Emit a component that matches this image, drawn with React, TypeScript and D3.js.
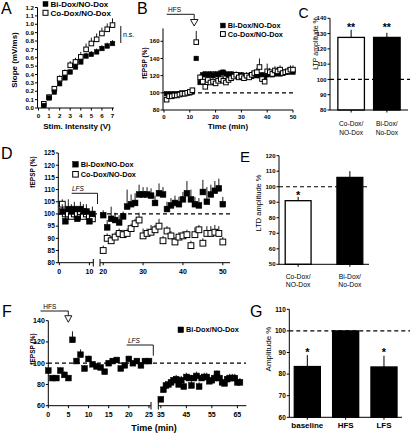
import React from "react";
import * as d3 from "d3";

const FONT = "'Liberation Sans', Arial, Helvetica, sans-serif";

// ---------- Panel A ----------
const stimV = [0.5, 1, 1.5, 2, 2.5, 3, 3.5, 4, 4.5, 5, 5.5, 6, 6.5, 7];
const aBi = [0.03, 0.12, 0.19, 0.29, 0.36, 0.43, 0.49, 0.55, 0.62, 0.64, 0.67, 0.71, 0.74, 0.77];
const aBiErr = [0.02, 0.02, 0.02, 0.02, 0.03, 0.03, 0.03, 0.03, 0.04, 0.04, 0.04, 0.04, 0.04, 0.04];
const aCo = [0.05, 0.13, 0.23, 0.35, 0.42, 0.51, 0.55, 0.61, 0.7, 0.77, 0.82, 0.89, 0.94, 0.99];
const aCoErr = [0.02, 0.03, 0.03, 0.04, 0.04, 0.05, 0.05, 0.06, 0.07, 0.07, 0.07, 0.07, 0.07, 0.08];

// ---------- Panel B ----------
const bBaseT = [1, 2, 3, 4, 5, 6, 7, 8, 9, 10, 11];
const bBiBase = [99, 98, 99, 98, 99, 99, 100, 99, 100, 100, 101];
const bBiBaseErr = [2, 2, 2, 2, 2, 2, 2, 2, 2, 2, 2];
const bCoBase = [92, 96, 96, 97, 97, 98, 99, 99, 100, 101, 103];
const bCoBaseErr = [2, 2, 2, 2, 2, 2, 2, 2, 2, 2, 2];
const bSpikeT = [12.5];
const bBiSpike = [140];
const bBiSpikeErr = [3];
const bCoSpike = [159];
const bCoSpikeErr = [13];
const bPostT = [14, 15, 16, 17, 18, 19, 20, 21, 22, 23, 24, 25, 26, 27, 28, 29, 30, 31, 32, 33, 34, 35, 36, 37, 38, 39, 40, 41, 42, 43, 44, 45, 46, 47, 48, 49, 50];
const bBiPost = [112, 121, 122, 121, 122, 120, 122, 121, 123, 124, 122, 121, 122, 121, 120, 119, 121, 118, 119, 120, 119, 121, 120, 120, 121, 119, 121, 122, 121, 122, 123, 122, 123, 124, 124, 125, 124];
const bBiPostErr = [3, 3, 3, 3, 3, 3, 3, 3, 4, 3, 3, 3, 3, 3, 3, 3, 3, 3, 3, 3, 3, 3, 3, 3, 3, 3, 3, 3, 3, 3, 3, 3, 3, 3, 3, 3, 3];
const bCoPost = [118, 113, 107, 115, 112, 113, 111, 114, 116, 114, 112, 115, 117, 119, 121, 118, 119, 117, 120, 118, 121, 123, 124, 130, 116, 113, 125, 124, 122, 126, 125, 127, 123, 124, 125, 127, 127];
const bCoPostErr = [4, 4, 4, 4, 4, 4, 4, 4, 4, 4, 4, 4, 4, 4, 4, 4, 4, 4, 4, 4, 4, 4, 5, 10, 4, 4, 9, 5, 4, 5, 5, 5, 4, 4, 5, 5, 5];

// ---------- Panel C ----------
const cCats = ["Co-Dox/|NO-Dox", "Bi-Dox/|No-Dox"];
const cVals = [127.5, 127.5];
const cErrs = [5, 3];
const cFills = ["#fff", "#000"];

// ---------- Panel D ----------
const dBaseT = [1, 2, 3, 4, 5, 6, 7, 8, 9, 10, 11];
const dBiBase = [101, 97, 102, 101, 102, 98, 102, 101, 101, 97, 100];
const dBiBaseErr = [3, 3, 4, 3, 3, 3, 3, 3, 3, 3, 3];
const dCoBase = [104, 100, 100, 99, 100, 100, 101, 99, 100, 99, 98];
const dCoBaseErr = [2, 2, 2, 2, 2, 2, 2, 2, 2, 2, 2];
const dPostT = [20, 21, 22, 23, 24, 25, 26, 27, 28, 29, 30, 31, 32, 33, 34, 35, 36, 37, 38, 39, 40, 41, 42, 43, 44, 45, 46, 47, 48, 49, 50];
const dBiPost = [99.5, 94.5, 98, 97.5, 96.5, 99, 103, 104, 104.5, 108, 108, 108, 107.5, 104.5, 108.5, 108, 102, 103.5, 104.5, 104, 106, 108.5, 106, 104, 103.5, 109, 105, 108, 109.5, 110.5, 104];
const dBiPostErr = [2, 3, 5, 3, 3, 2, 7, 4, 4, 4, 3, 3, 3, 3, 4, 3, 3, 3, 3, 3, 3, 5, 4, 3, 3, 5, 6, 4, 4, 4, 3];
const dCoPost = [85, 90, 89, 90.5, 92, 91.5, 92, 94, 96, 97.5, 91, 92, 92.5, 93.5, 95, 89, 93, 91, 88.5, 90.5, 91, 91.5, 87, 91.5, 93.5, 88, 92, 92, 92.5, 92, 88.5];
const dCoPostErr = [2, 2, 2, 2, 2, 2, 2, 2, 2, 3, 3, 2, 3, 2, 3, 2, 2, 2, 2, 2, 2, 2, 2, 3, 2, 2, 3, 3, 3, 3, 2];

// ---------- Panel E ----------
const eCats = ["Co-Dox/|NO-Dox", "Bi-Dox/|No-Dox"];
const eVals = [91, 106];
const eErrs = [2.5, 4];
const eFills = ["#fff", "#000"];

// ---------- Panel F ----------
const fPreT = [0, 1, 2, 3, 4, 5, 6, 7, 8, 9, 10, 11, 12, 13, 14, 15, 16, 17, 18, 19, 20, 21, 22, 23, 24, 25];
const fPre = [93, 86, 86, 93, 89, 86, 122, 102, 108, 95, 104, 99, 97, 96, 92, 100, 102, 103, 95, 98, 104, 100, 102, 98, 102, 102];
const fPreErr = [3, 2, 2, 3, 3, 2, 8, 3, 5, 3, 3, 2, 2, 2, 2, 2, 2, 2, 2, 2, 2, 2, 2, 2, 2, 2];
const fPostT = [35, 36, 37, 38, 39, 40, 41, 42, 43, 44, 45, 46, 47, 48, 49, 50, 51, 52, 53, 54, 55, 56, 57, 58, 59, 60, 61, 62, 63, 64, 65, 66];
const fPost = [66, 75, 79, 80, 82, 84, 85, 80, 84, 78, 87, 86, 79, 86, 88, 78, 86, 87, 87, 83, 84, 86, 90, 86, 82, 81, 85, 86, 86, 86, 82, 82];
const fPostErr = [2, 3, 3, 3, 3, 4, 4, 4, 4, 4, 4, 4, 4, 4, 4, 4, 4, 4, 4, 4, 4, 4, 3, 4, 4, 4, 4, 4, 4, 4, 4, 4];

// ---------- Panel G ----------
const gCats = ["baseline", "HFS", "LFS"];
const gVals = [83.5, 100, 83.3];
const gErrs = [5.3, 0, 5.2];
const gStars = ["*", "", "*"];

function YAxis({ scale, x, ticks, fmt = (d: number) => String(d), fs = 6, tl = 2.5, bold = true }: any) {
  const [r0, r1] = scale.range();
  return (
    <g>
      <line x1={x} x2={x} y1={r0} y2={r1} stroke="#000" strokeWidth={1} />
      {ticks.map((t: number) => (
        <g key={t}>
          <line x1={x - tl} x2={x} y1={scale(t)} y2={scale(t)} stroke="#000" strokeWidth={1} />
          <text x={x - tl - 1} y={scale(t)} dy="0.36em" textAnchor="end" fontSize={fs} fontWeight={bold ? "bold" : "normal"}>
            {fmt(t)}
          </text>
        </g>
      ))}
    </g>
  );
}

function XAxis({ scale, y, ticks, x0, x1, fs = 6, tl = 2.5, labelY, bold = true }: any) {
  const [r0, r1] = scale.range();
  return (
    <g>
      <line x1={x0 ?? r0} x2={x1 ?? r1} y1={y} y2={y} stroke="#000" strokeWidth={1} />
      {ticks.map((t: number) => (
        <g key={t}>
          <line x1={scale(t)} x2={scale(t)} y1={y} y2={y + tl} stroke="#000" strokeWidth={1} />
          <text x={scale(t)} y={labelY} textAnchor="middle" fontSize={fs} fontWeight={bold ? "bold" : "normal"}>
            {t}
          </text>
        </g>
      ))}
    </g>
  );
}

function Dash({ x1, x2, y }: any) {
  return <line x1={x1} x2={x2} y1={y} y2={y} stroke="#000" strokeWidth={1.2} strokeDasharray="4,3" />;
}

function Series({ xs, ys, errs, x, y, s, filled }: any) {
  return (
    <g>
      {xs.map((t: number, i: number) => (
        <line key={"e" + i} x1={x(t)} x2={x(t)} y1={y(ys[i])} y2={y(ys[i] + errs[i])} stroke="#000" strokeWidth={0.9} />
      ))}
      {xs.map((t: number, i: number) => (
        <rect
          key={"r" + i}
          x={x(t) - s / 2}
          y={y(ys[i]) - s / 2}
          width={s}
          height={s}
          fill={filled ? "#000" : "#fff"}
          stroke="#000"
          strokeWidth={filled ? 0.5 : 1}
        />
      ))}
    </g>
  );
}

function LegendItem({ x, y, s, filled, label, fs }: any) {
  return (
    <g>
      <rect x={x} y={y - s / 2} width={s} height={s} fill={filled ? "#000" : "#fff"} stroke="#000" strokeWidth={filled ? 0.5 : 1} />
      <text x={x + s + 2.5} y={y} dy="0.36em" fontSize={fs} fontWeight="bold">
        {label}
      </text>
    </g>
  );
}

function Letter({ x, y, t, fs = 16 }: any) {
  return (
    <text x={x} y={y} fontSize={fs}>
      {t}
    </text>
  );
}

function VTitle({ x, y, t, fs, bold = true }: any) {
  return (
    <text transform={`translate(${x},${y}) rotate(-90)`} textAnchor="middle" dy="0.36em" fontSize={fs} fontWeight={bold ? "bold" : "normal"}>
      {t}
    </text>
  );
}

function Bars({ cats, vals, errs, fills, band, y, base, labelY1, labelY2, fs, bold = false }: any) {
  return (
    <g>
      {cats.map((c: string, i: number) => {
        const bx = band(c);
        const bw = band.bandwidth();
        const cx = bx + bw / 2;
        const [l1, l2] = c.split("|");
        return (
          <g key={c}>
            <line x1={cx} x2={cx} y1={y(vals[i])} y2={y(vals[i] + errs[i])} stroke="#000" strokeWidth={1} />
            <rect x={bx} y={y(vals[i])} width={bw} height={y(base) - y(vals[i])} fill={fills[i]} stroke="#000" strokeWidth={1.3} />
            <line x1={cx} x2={cx} y1={y(base)} y2={y(base) + 2.5} stroke="#000" strokeWidth={1} />
            <text x={cx} y={labelY1} textAnchor="middle" fontSize={fs} fontWeight={bold ? "bold" : "normal"}>
              {l1}
            </text>
            {l2 && (
              <text x={cx} y={labelY2} textAnchor="middle" fontSize={fs} fontWeight={bold ? "bold" : "normal"}>
                {l2}
              </text>
            )}
          </g>
        );
      })}
    </g>
  );
}

function PanelA() {
  const x = d3.scaleLinear().domain([0, 7]).range([38.5, 112.5]);
  const y = d3.scaleLinear().domain([0, 1.2]).range([108, 7.5]);
  const yt = y.ticks(12);
  const xt = x.ticks(7);
  const s = 4.6;
  return (
    <g>
      <Letter x={1} y={14} t="A" />
      <Series xs={stimV} ys={aCo} errs={aCoErr} x={x} y={y} s={s} filled={false} />
      <Series xs={stimV} ys={aBi} errs={aBiErr} x={x} y={y} s={s} filled={true} />
      <YAxis scale={y} x={37.5} ticks={yt} fmt={d3.format(".1f")} fs={6.2} />
      <XAxis scale={x} y={108} ticks={xt} x0={37.5} x1={114} fs={6.2} labelY={117.5} />
      <text x={77} y={129} textAnchor="middle" fontSize={8} fontWeight="bold">Stim. Intensity (V)</text>
      <VTitle x={14} y={60} t="Slope (mV/ms)" fs={8} />
      <LegendItem x={43} y={4} s={5} filled={true} label="Bi-Dox/NO-Dox" fs={8} />
      <LegendItem x={43} y={12.8} s={5} filled={false} label="Co-Dox/NO-Dox" fs={8} />
      <line x1={120.7} x2={120.7} y1={26} y2={43} stroke="#555" strokeWidth={1.4} />
      <text x={123} y={36.5} fontSize={7}>n.s.</text>
    </g>
  );
}

function PanelB() {
  const x = d3.scaleLinear().domain([0, 50]).range([164, 293]);
  const y = d3.scaleLinear().domain([80, 175]).range([110, 28.4]);
  const s = 4.6;
  return (
    <g>
      <Letter x={137} y={14} t="B" />
      <Dash x1={163} x2={293} y={y(100)} />
      <Series xs={bBaseT} ys={bBiBase} errs={bBiBaseErr} x={x} y={y} s={s} filled={true} />
      <Series xs={bSpikeT} ys={bBiSpike} errs={bBiSpikeErr} x={x} y={y} s={s} filled={true} />
      <Series xs={bPostT} ys={bBiPost} errs={bBiPostErr} x={x} y={y} s={s} filled={true} />
      <Series xs={bBaseT} ys={bCoBase} errs={bCoBaseErr} x={x} y={y} s={s} filled={false} />
      <Series xs={bSpikeT} ys={bCoSpike} errs={bCoSpikeErr} x={x} y={y} s={s} filled={false} />
      <Series xs={bPostT} ys={bCoPost} errs={bCoPostErr} x={x} y={y} s={s} filled={false} />
      <YAxis scale={y} x={163} ticks={[80, 100, 120, 140, 160]} fs={6} />
      <XAxis scale={x} y={110} ticks={[0, 10, 20, 30, 40, 50]} x0={163} x1={293} fs={6} labelY={118.5} />
      <text x={228} y={128.5} textAnchor="middle" fontSize={8} fontWeight="bold">Time (min)</text>
      <VTitle x={144.5} y={63} t="fEPSP (%)" fs={6.5} />
      <text x={168} y={12.3} fontSize={6.5}>HFS</text>
      <polyline points={`166.7,14.3 194.2,14.3 194.2,19.5`} fill="none" stroke="#000" strokeWidth={0.9} />
      <polygon points={`190.5,19.5 198,19.5 194.2,26`} fill="#fff" stroke="#000" strokeWidth={0.9} />
      <LegendItem x={220.5} y={25.5} s={4.8} filled={true} label="Bi-Dox/NO-Dox" fs={7.3} />
      <LegendItem x={220.5} y={34} s={4.8} filled={false} label="Co-Dox/NO-Dox" fs={7.3} />
    </g>
  );
}

function PanelC() {
  const y = d3.scaleLinear().domain([80, 140]).range([110, 18.3]);
  const band = d3.scaleBand().domain(cCats).range([330, 408]).paddingInner(0.257).paddingOuter(0.22);
  return (
    <g>
      <Letter x={298.5} y={17.5} t="C" fs={14} />
      <Bars cats={cCats} vals={cVals} errs={cErrs} fills={cFills} band={band} y={y} base={80} labelY1={126} labelY2={134.8} fs={6.6} />
      <Dash x1={330} x2={410} y={y(100)} />
      <YAxis scale={y} x={330} ticks={[80, 90, 100, 110, 120, 130, 140]} fs={5.8} />
      <line x1={330} x2={408} y1={110} y2={110} stroke="#000" strokeWidth={1} />
      {cCats.map((c) => (
        <text key={c} x={(band(c) as number) + band.bandwidth() / 2} y={31} textAnchor="middle" fontSize={10.5} fontWeight="bold">**</text>
      ))}
      <VTitle x={315.5} y={43.5} t="LTP amplitude %" fs={7} bold={false} />
    </g>
  );
}

function PanelD() {
  const x1 = d3.scaleLinear().domain([0, 11.3]).range([59.3, 93.3]);
  const x2 = d3.scaleLinear().domain([19.2, 51.8]).range([100, 230]);
  const y = d3.scaleLinear().domain([80, 125]).range([262.7, 153]);
  const s = 5.8;
  return (
    <g>
      <Letter x={1} y={159} t="D" />
      <Dash x1={58} x2={230} y={y(100)} />
      <Series xs={dBaseT} ys={dCoBase} errs={dCoBaseErr} x={x1} y={y} s={s} filled={false} />
      <Series xs={dBaseT} ys={dBiBase} errs={dBiBaseErr} x={x1} y={y} s={s} filled={true} />
      <Series xs={dPostT} ys={dCoPost} errs={dCoPostErr} x={x2} y={y} s={s} filled={false} />
      <Series xs={dPostT} ys={dBiPost} errs={dBiPostErr} x={x2} y={y} s={s} filled={true} />
      <YAxis scale={y} x={58.3} ticks={[80, 85, 90, 95, 100, 105, 110, 115, 120, 125]} fs={6.5} />
      <XAxis scale={x1} y={262.7} ticks={[0, 10]} x0={58.3} fs={7} labelY={274} />
      <XAxis scale={x2} y={262.7} ticks={[20, 30, 40, 50]} fs={7} labelY={274} />
      <line x1={93.3} x2={93.3} y1={259} y2={266.5} stroke="#000" strokeWidth={1} />
      <line x1={100} x2={100} y1={259} y2={266.5} stroke="#000" strokeWidth={1} />
      <VTitle x={33} y={172} t="fEPSP (%)" fs={6.5} />
      <text x={72} y={190.5} fontSize={6.5} fontStyle="italic">LFS</text>
      <polyline points={`71.7,193.3 97.5,193.3 97.5,204`} fill="none" stroke="#000" strokeWidth={0.9} />
      <LegendItem x={72.7} y={164.3} s={5.6} filled={true} label="Bi-Dox/NO-Dox" fs={7.3} />
      <LegendItem x={72.7} y={174.3} s={5.6} filled={false} label="Co-Dox/NO-Dox" fs={7.3} />
    </g>
  );
}

function PanelE() {
  const y = d3.scaleLinear().domain([50, 120]).range([264.3, 155.7]);
  const band = d3.scaleBand().domain(eCats).range([279, 369]).paddingInner(0.5).paddingOuter(0.12);
  return (
    <g>
      <Letter x={240} y={162} t="E" fs={15} />
      <Bars cats={eCats} vals={eVals} errs={eErrs} fills={eFills} band={band} y={y} base={50} labelY1={279} labelY2={286.5} fs={6.8} />
      <Dash x1={279} x2={370} y={y(100)} />
      <YAxis scale={y} x={279} ticks={[50, 60, 70, 80, 90, 100, 110, 120]} fs={6} />
      <line x1={279} x2={369} y1={264.3} y2={264.3} stroke="#000" strokeWidth={1} />
      <text x={(band(eCats[0]) as number) + band.bandwidth() / 2} y={199} textAnchor="middle" fontSize={11} fontWeight="bold">*</text>
      <VTitle x={258.5} y={203} t="LTD amplitude %" fs={7.5} bold={false} />
    </g>
  );
}

function PanelF() {
  const x1 = d3.scaleLinear().domain([0, 25.5]).range([48.3, 151]);
  const x2 = d3.scaleLinear().domain([34, 68.5]).range([158.3, 246.3]);
  const y = d3.scaleLinear().domain([60, 140]).range([405.7, 320.7]);
  const s = 5.8;
  return (
    <g>
      <Letter x={2} y={317} t="F" />
      <Dash x1={48} x2={246} y={y(100)} />
      <Series xs={fPreT} ys={fPre} errs={fPreErr} x={x1} y={y} s={s} filled={true} />
      <Series xs={fPostT} ys={fPost} errs={fPostErr} x={x2} y={y} s={s} filled={true} />
      <YAxis scale={y} x={48.3} ticks={[60, 80, 100, 120, 140]} fs={7} />
      <XAxis scale={x1} y={405.7} ticks={[0, 5, 10, 15, 20, 25]} fs={7} labelY={416.5} />
      <XAxis scale={x2} y={405.7} ticks={[35, 45, 55, 65]} fs={7} labelY={416.5} />
      <line x1={151} x2={151} y1={402} y2={409.5} stroke="#000" strokeWidth={1} />
      <line x1={158.3} x2={158.3} y1={402} y2={409.5} stroke="#000" strokeWidth={1} />
      <text x={154} y={431} textAnchor="middle" fontSize={9} fontWeight="bold">Time (min)</text>
      <VTitle x={33} y={349} t="fEPSP (%)" fs={6.5} />
      <text x={43.3} y={309} fontSize={6.5}>HFS</text>
      <polyline points={`40.5,311 68.3,311 68.3,315.7`} fill="none" stroke="#000" strokeWidth={0.9} />
      <polygon points={`64.8,315.7 71.8,315.7 68.3,322.3`} fill="#fff" stroke="#000" strokeWidth={0.9} />
      <text x={128} y={343} fontSize={6.5} fontStyle="italic">LFS</text>
      <polyline points={`126.7,345 153.3,345 153.3,355.7`} fill="none" stroke="#000" strokeWidth={0.9} />
      <LegendItem x={178} y={329.8} s={5.6} filled={true} label="Bi-Dox/NO-Dox" fs={7.3} />
    </g>
  );
}

function PanelG() {
  const y = d3.scaleLinear().domain([60, 110]).range([417.3, 309.3]);
  const band = d3.scaleBand().domain(gCats).range([289.3, 402]).paddingInner(0.32).paddingOuter(0.13);
  return (
    <g>
      <Letter x={250} y={317} t="G" />
      <Bars cats={gCats} vals={gVals} errs={gErrs} fills={["#000", "#000", "#000"]} band={band} y={y} base={60} labelY1={428} labelY2={0} fs={8} bold={true} />
      <Dash x1={289.3} x2={410} y={y(100)} />
      <YAxis scale={y} x={289.3} ticks={[60, 70, 80, 90, 100, 110]} fs={6.5} />
      <line x1={289.3} x2={402} y1={417.3} y2={417.3} stroke="#000" strokeWidth={1} />
      {gCats.map((c, i) => (
        <text key={c} x={(band(c) as number) + band.bandwidth() / 2} y={355.5} textAnchor="middle" fontSize={11} fontWeight="bold">{gStars[i]}</text>
      ))}
      <VTitle x={268.3} y={349} t="Amplitude %" fs={8} bold={false} />
    </g>
  );
}

export default function App() {
  return (
    <svg
      width={410}
      height={442}
      viewBox="0 0 410 442"
      style={{ position: "absolute", left: 0, top: 0, display: "block", background: "#fff" }}
      fontFamily={FONT}
    >
      <rect x={0} y={0} width={410} height={442} fill="#fff" />
      <PanelA />
      <PanelB />
      <PanelC />
      <PanelD />
      <PanelE />
      <PanelF />
      <PanelG />
    </svg>
  );
}
